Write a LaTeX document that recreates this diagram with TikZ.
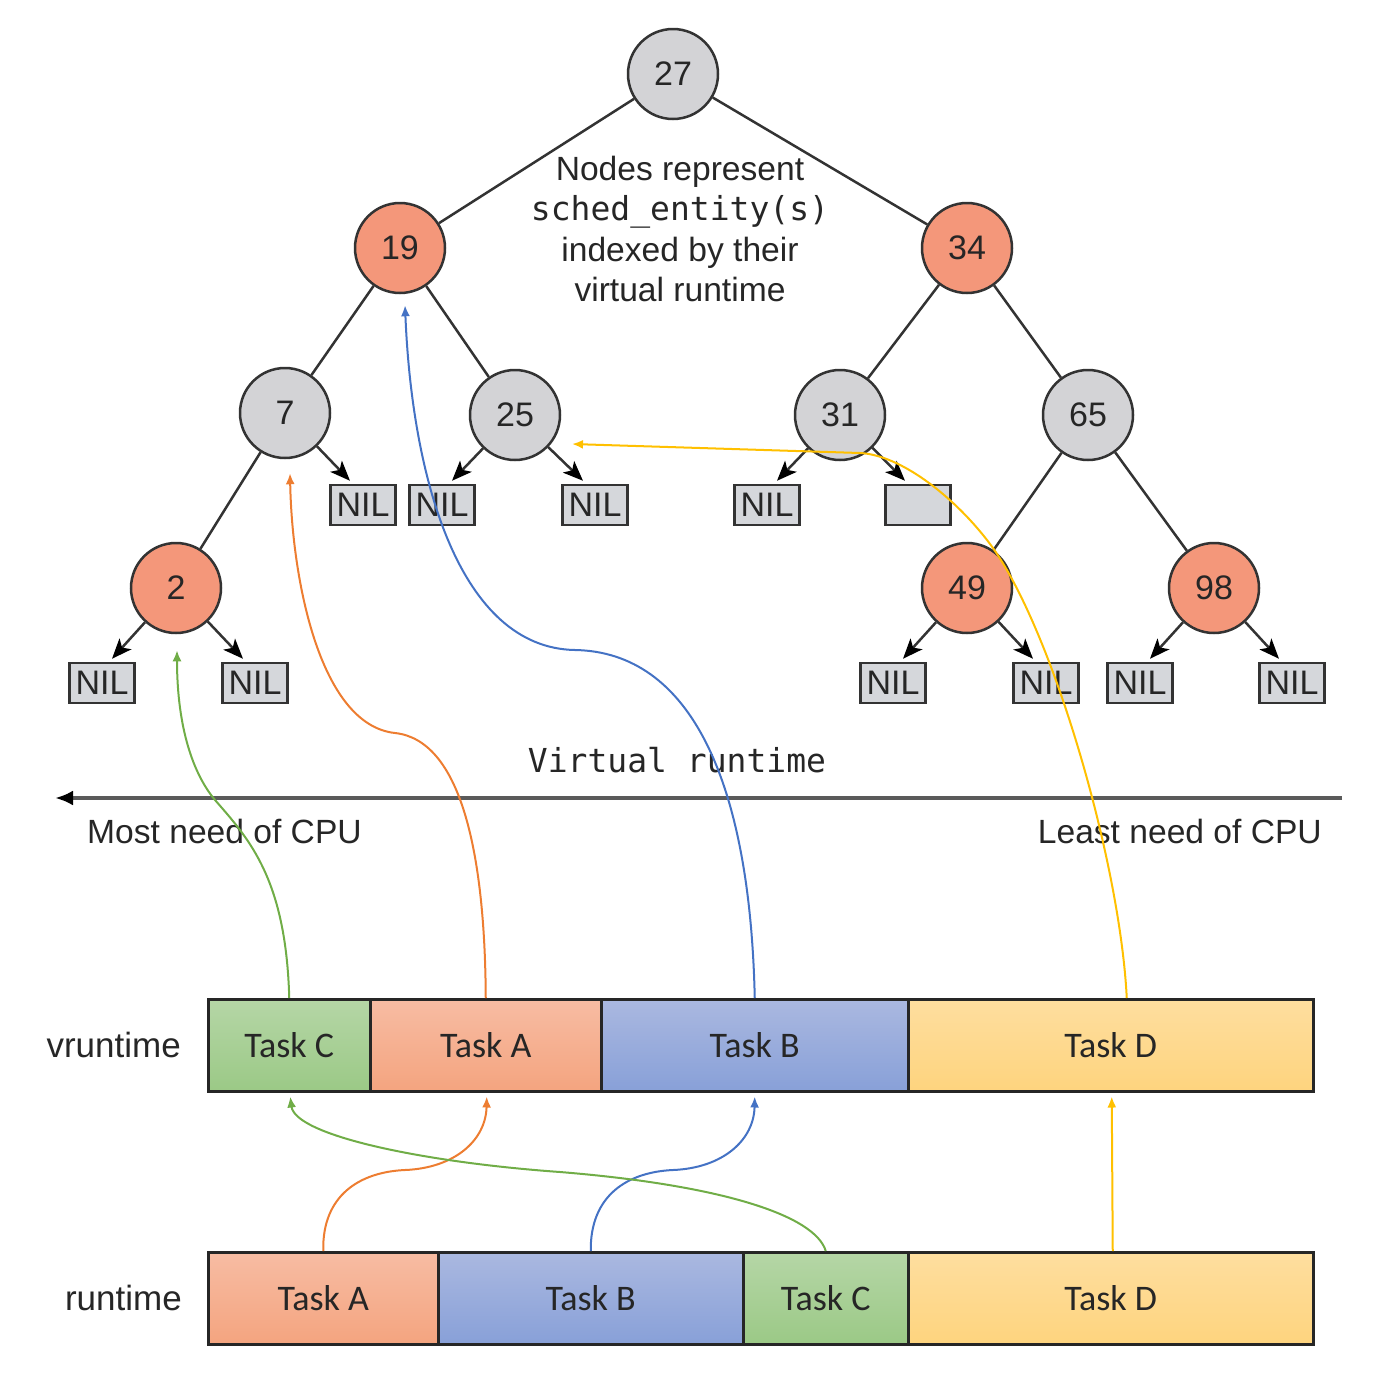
\documentclass[tikz,border=0pt]{standalone}
\usepackage{fontspec}
\setmainfont{Liberation Sans}
\setmonofont{DejaVu Sans Mono}
\newfontfamily\taskfont{Carlito}
\usetikzlibrary{arrows.meta,calc}

\definecolor{nodegray}{HTML}{D3D3D6}
\definecolor{nodered}{HTML}{F4977A}
\definecolor{nilgray}{HTML}{D5D7DB}
\definecolor{edgec}{HTML}{333333}
\definecolor{textc}{HTML}{262626}
\definecolor{axisc}{HTML}{5A5A5A}
\definecolor{cgreen}{HTML}{70AD47}
\definecolor{corange}{HTML}{ED7D31}
\definecolor{cblue}{HTML}{4472C4}
\definecolor{cyellow}{HTML}{FFC000}
\definecolor{gTop}{HTML}{B5D6A6}
\definecolor{gBot}{HTML}{9BC986}
\definecolor{aTop}{HTML}{F7BCA3}
\definecolor{aBot}{HTML}{F4A47F}
\definecolor{bTop}{HTML}{AAB8E0}
\definecolor{bBot}{HTML}{88A0D8}
\definecolor{dTop}{HTML}{FEDE9F}
\definecolor{dBot}{HTML}{FED47E}

\begin{document}
\begin{tikzpicture}[x=1pt,y=-1pt,
  rbnode/.style={circle, draw=edgec, line width=2.5pt, minimum size=90pt, inner sep=0pt,
    font=\fontsize{34}{40}\selectfont, text=textc},
  nilbox/.style={rectangle, draw=edgec, line width=2.5pt, fill=nilgray, minimum width=65pt,
    minimum height=40pt, inner sep=0pt, font=\fontsize{34}{38}\selectfont, text=textc},
  tedge/.style={draw=edgec, line width=2.5pt},
  tarrow/.style={draw=edgec, line width=2.5pt, -{Stealth[length=20pt,width=16pt,inset=5pt,color=black]}},
  bar/.style={rectangle, draw=black!85, line width=2.5pt, minimum height=92pt, inner sep=0pt,
    anchor=north west, font=\taskfont\fontsize{36}{40}\selectfont, text=textc},
  carrow/.style={line width=2pt, -{Latex[length=11pt,width=9pt]}},
  lbl/.style={font=\fontsize{33.6}{38}\selectfont, text=textc, inner sep=0pt}
]
\useasboundingbox (0,0) rectangle (1382,1390);

% tree nodes
\node[rbnode, fill=nodegray] (n27) at (673,74) {27};
\node[rbnode, fill=nodered] (n19) at (400,248) {19};
\node[rbnode, fill=nodered] (n34) at (967,248) {34};
\node[rbnode, fill=nodegray] (n7) at (285,413) {7};
\node[rbnode, fill=nodegray] (n25) at (515,415) {25};
\node[rbnode, fill=nodegray] (n31) at (840,415) {31};
\node[rbnode, fill=nodegray] (n65) at (1088,415) {65};
\node[rbnode, fill=nodered] (n2) at (176,588) {2};
\node[rbnode, fill=nodered] (n49) at (967,588) {49};
\node[rbnode, fill=nodered] (n98) at (1214,588) {98};

% NIL leaves
\node[nilbox] (nA) at (363,505) {NIL};
\node[nilbox] (nB) at (442,505) {NIL};
\node[nilbox] (nC) at (595,505) {NIL};
\node[nilbox] (nD) at (767,505) {NIL};
\node[nilbox] (nE) at (918,505) {};
\node[nilbox] (nF) at (102,683) {NIL};
\node[nilbox] (nG) at (255,683) {NIL};
\node[nilbox] (nH) at (893,683) {NIL};
\node[nilbox] (nI) at (1046,683) {NIL};
\node[nilbox] (nJ) at (1140,683) {NIL};
\node[nilbox] (nK) at (1292,683) {NIL};

% tree edges
\draw[tedge] (n27) -- (n19);
\draw[tedge] (n27) -- (n34);
\draw[tedge] (n19) -- (n7);
\draw[tedge] (n19) -- (n25);
\draw[tedge] (n34) -- (n31);
\draw[tedge] (n34) -- (n65);
\draw[tedge] (n7) -- (n2);
\draw[tedge] (n65) -- (n49);
\draw[tedge] (n65) -- (n98);

% arrows to leaves
\draw[tarrow] (n7) -- ([xshift=-13pt,yshift=3pt]nA.north);
\draw[tarrow] (n25) -- ([xshift=10pt,yshift=3pt]nB.north);
\draw[tarrow] (n25) -- ([xshift=-12pt,yshift=3pt]nC.north);
\draw[tarrow] (n31) -- ([xshift=10pt,yshift=3pt]nD.north);
\draw[tarrow] (n31) -- ([xshift=-13pt,yshift=3pt]nE.north);
\draw[tarrow] (n2) -- ([xshift=10pt,yshift=3pt]nF.north);
\draw[tarrow] (n2) -- ([xshift=-12pt,yshift=3pt]nG.north);
\draw[tarrow] (n49) -- ([xshift=10pt,yshift=3pt]nH.north);
\draw[tarrow] (n49) -- ([xshift=-13pt,yshift=3pt]nI.north);
\draw[tarrow] (n98) -- ([xshift=10pt,yshift=3pt]nJ.north);
\draw[tarrow] (n98) -- ([xshift=-13pt,yshift=3pt]nK.north);

% note
\node[lbl, align=center, font=\fontsize{33.6}{40.5}\selectfont] (note) at (680,229)
  {Nodes represent\\{\ttfamily\fontsize{33}{40.5}\selectfont sched\_entity(s)}\\indexed by their\\virtual runtime};

% axis
\node[lbl, font=\ttfamily\fontsize{33}{38}\selectfont] (vrt) at (677,760) {Virtual runtime};
\coordinate (axR) at (1342,798);
\coordinate (axL) at (55,798);
\draw[draw=axisc, line width=4pt, -{Latex[length=18pt,width=15pt,color=black]}] (axR) -- (axL);
\node[lbl, anchor=west] (most) at (87,831) {Most need of CPU};
\node[lbl, anchor=east] (least) at (1322,831) {Least need of CPU};

% bars
\node[lbl, anchor=east, font=\fontsize{35}{38}\selectfont] (lv) at (181,1045) {vruntime};
\node[lbl, anchor=east, font=\fontsize{35}{38}\selectfont] (lr) at (182,1298) {runtime};

\node[bar, top color=gTop, bottom color=gBot, minimum width=162pt] (vC) at (207,998) {Task C};
\node[bar, top color=aTop, bottom color=aBot, minimum width=231pt] (vA) at (369,998) {Task A};
\node[bar, top color=bTop, bottom color=bBot, minimum width=307pt] (vB) at (600,998) {Task B};
\node[bar, top color=dTop, bottom color=dBot, minimum width=405pt] (vD) at (907,998) {Task D};

\node[bar, top color=aTop, bottom color=aBot, minimum width=230pt] (rA) at (207,1251) {Task A};
\node[bar, top color=bTop, bottom color=bBot, minimum width=305pt] (rB) at (437,1251) {Task B};
\node[bar, top color=gTop, bottom color=gBot, minimum width=165pt] (rC) at (742,1251) {Task C};
\node[bar, top color=dTop, bottom color=dBot, minimum width=405pt] (rD) at (907,1251) {Task D};

% arrow targets
\coordinate (t2) at ([xshift=1pt,yshift=-16pt]n2.south);
\coordinate (t7) at ([xshift=5pt,yshift=-14pt]n7.south);
\coordinate (t19) at ([xshift=5pt,yshift=-11pt]n19.south);
\coordinate (t25) at ([xshift=57pt,yshift=-29pt]n25.center);
\coordinate (tvC) at ([xshift=1pt,yshift=-4pt]vC.south);
\coordinate (tvA) at ([xshift=1pt,yshift=-4pt]vA.south);
\coordinate (tvB) at ([yshift=-4pt]vB.south);
\coordinate (tvD) at ([xshift=1pt,yshift=-4pt]vD.south);

% vruntime -> tree
\draw[carrow, cgreen] (vC.north) .. controls (286,880) and (250,840) .. (215,800)
  .. controls (190,770) and (177,720) .. (t2);
\draw[carrow, corange] (vA.north) .. controls (485,850) and (460,740) .. (395,733)
  .. controls (320,725) and (292,580) .. (t7);
\draw[carrow, cblue] (vB.north) .. controls (750,780) and (690,652) .. (575,650)
  .. controls (460,648) and (412,480) .. (t19);
\draw[carrow, cyellow] ([xshift=16pt]vD.north) .. controls (1120,860) and (1050,620) .. (987,540)
  .. controls (952,495) and (900,455) .. (860,453) -- (t25);

% runtime -> vruntime
\draw[carrow, corange] (rA.north) .. controls (322,1195) and (360,1172) .. (405,1170)
  .. controls (455,1168) and (486,1140) .. (tvA);
\draw[carrow, cblue] (rB.north) .. controls (590,1195) and (628,1172) .. (673,1170)
  .. controls (723,1168) and (754,1140) .. (tvB);
\draw[carrow, cgreen] (rC.north) .. controls (815,1215) and (720,1185) .. (560,1172)
  .. controls (420,1162) and (295,1135) .. (tvC);
\draw[carrow, cyellow] ([xshift=2pt]rD.north) -- (tvD);
\end{tikzpicture}
\end{document}
